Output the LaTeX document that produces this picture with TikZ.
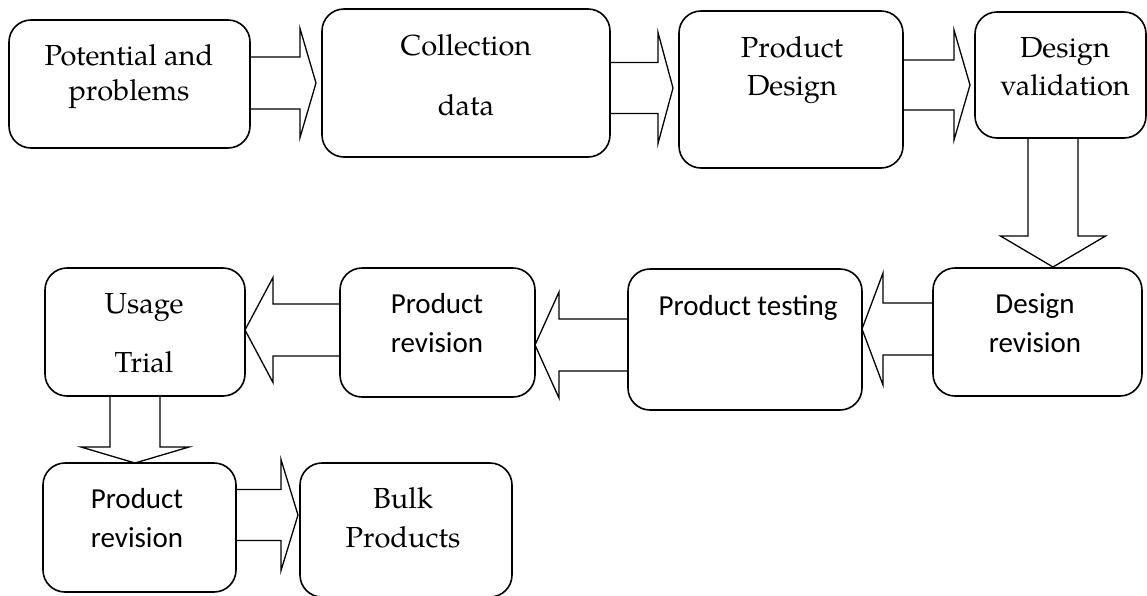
\documentclass[tikz,border=0pt]{standalone}
\usepackage{fontspec}
\setmainfont{TeX Gyre Pagella}
\newfontfamily\calib{Carlito}
\usetikzlibrary{calc}
\tikzset{
  box/.style={draw, line width=1.6pt, rounded corners=22pt, inner sep=0pt, outer sep=0pt},
  blockarrow/.style={draw, line width=1.3pt, line join=miter},
  serif/.style={font=\fontsize{29}{34}\selectfont, anchor=base, inner sep=0pt},
  sans/.style={font=\calib\fontsize{29}{34}\selectfont, anchor=base, inner sep=0pt},
}
% horizontal block arrow: #1 start anchor, #2 tip, #3 shaft half width, #4 head half width, #5 signed x offset from tip to head back
\newcommand\hblockarrow[5]{%
  \draw[blockarrow] ($(#1 |- #2)+(0,-#3)$) -- ($(#2)+(#5,-#3)$) -- ($(#2)+(#5,-#4)$) -- (#2)
    -- ($(#2)+(#5,#4)$) -- ($(#2)+(#5,#3)$) -- ($(#1 |- #2)+(0,#3)$) -- cycle;}
% downward block arrow: #1 start anchor, #2 tip, #3 shaft half width, #4 head half width, #5 head length
\newcommand\vblockarrow[5]{%
  \draw[blockarrow] ($(#1 -| #2)+(-#3,0)$) -- ($(#2)+(-#3,-#5)$) -- ($(#2)+(-#4,-#5)$) -- (#2)
    -- ($(#2)+(#4,-#5)$) -- ($(#2)+(#3,-#5)$) -- ($(#1 -| #2)+(#3,0)$) -- cycle;}
\begin{document}
\begin{tikzpicture}[x=1pt,y=-1pt]
\useasboundingbox (0,0) rectangle (1147,595);
% boxes
\node[box, minimum width=241pt, minimum height=128pt] (b1) at (129.5,84) {};
\node[box, minimum width=288pt, minimum height=148pt] (b2) at (466,83) {};
\node[box, minimum width=224pt, minimum height=157pt] (b3) at (791,89.5) {};
\node[box, minimum width=171pt, minimum height=126pt] (b4) at (1060.5,75) {};
\node[box, minimum width=209pt, minimum height=128pt] (b5) at (1037.5,332) {};
\node[box, minimum width=234pt, minimum height=141pt] (b6) at (745,339.5) {};
\node[box, minimum width=195pt, minimum height=129pt] (b7) at (437.5,332.5) {};
\node[box, minimum width=200pt, minimum height=128pt] (b8) at (145,332) {};
\node[box, minimum width=193pt, minimum height=129pt] (b9) at (139.5,527.5) {};
\node[box, minimum width=212pt, minimum height=134pt] (b10) at (406,530) {};
% texts
\node[serif] (t1a) at (129,65) {Potential and};
\node[serif] (t1b) at (129,100) {problems};
\node[serif] (t2a) at (466,55) {Collection};
\node[serif] (t2b) at (466,115) {data};
\node[serif] (t3a) at (792,57) {Product};
\node[serif] (t3b) at (792,95) {Design};
\node[serif] (t4a) at (1065,57) {Design};
\node[serif] (t4b) at (1065,95) {validation};
\node[sans] (t5a) at (1035,313) {Design};
\node[sans] (t5b) at (1035,352) {revision};
\node[sans] (t6) at (748,315) {Product testing};
\node[sans] (t7a) at (437,313) {Product};
\node[sans] (t7b) at (437,352) {revision};
\node[serif] (t8a) at (144,313) {Usage};
\node[serif] (t8b) at (144,372) {Trial};
\node[sans] (t9a) at (137,508) {Product};
\node[sans] (t9b) at (137,547) {revision};
\node[serif] (t10a) at (403,508) {Bulk};
\node[serif] (t10b) at (403,547) {Products};
% arrow tips
\coordinate (a1t) at (316,83);
\coordinate (a2t) at (673,88);
\coordinate (a3t) at (970,85);
\coordinate (a4t) at (1053,267);
\coordinate (a5t) at (862,329);
\coordinate (a6t) at (535,345);
\coordinate (a7t) at (245,330);
\coordinate (a8t) at (135,463);
\coordinate (a9t) at (298,515);
% block arrows
\hblockarrow{b1.east}{a1t}{26}{54.5}{-16}
\hblockarrow{b2.east}{a2t}{25.5}{55.5}{-15}
\hblockarrow{b3.east}{a3t}{25}{55}{-16}
\vblockarrow{b4.south}{a4t}{25}{52.5}{31}
\hblockarrow{b5.west}{a5t}{26}{56}{21}
\hblockarrow{b6.west}{a6t}{26}{53}{24}
\hblockarrow{b7.west}{a7t}{26}{52.5}{28}
\vblockarrow{b8.south}{a8t}{25}{54}{16}
\hblockarrow{b9.east}{a9t}{25.5}{55.5}{-17}
\end{tikzpicture}
\end{document}
